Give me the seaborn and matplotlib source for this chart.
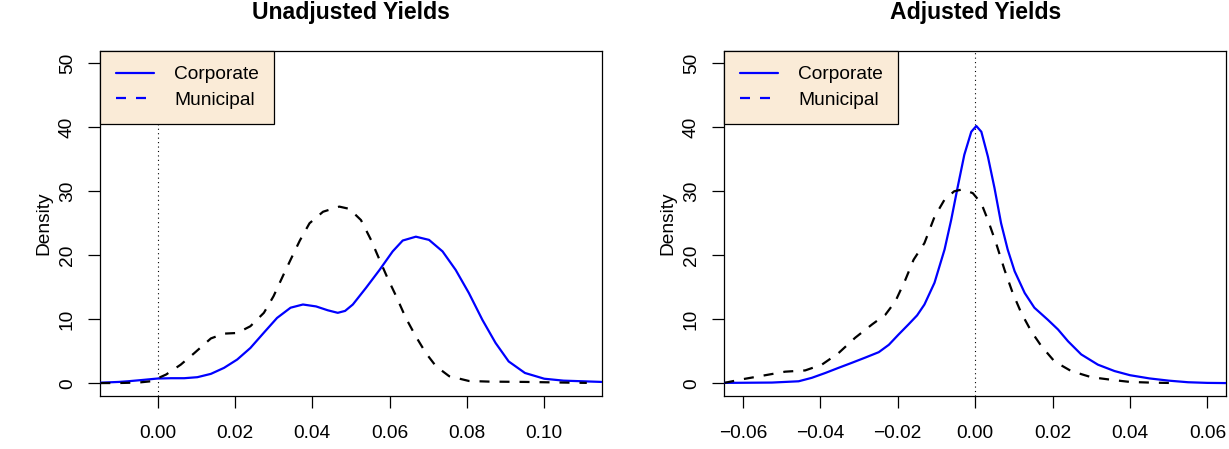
import numpy as np
import pandas as pd
import matplotlib
matplotlib.use("Agg")
import matplotlib.pyplot as plt
import seaborn as sns
from matplotlib.lines import Line2D

# ---------------- data ----------------
titles = ["Unadjusted Yields", "Adjusted Yields"]
series_names = ["Corporate", "Municipal"]
y_ticks = [0, 10, 20, 30, 40, 50]

unadj_xticks = [0.00, 0.02, 0.04, 0.06, 0.08, 0.10]
unadj_xlabels = ["0.00", "0.02", "0.04", "0.06", "0.08", "0.10"]
adj_xticks = [-0.06, -0.04, -0.02, 0.00, 0.02, 0.04, 0.06]
adj_xlabels = ["\u22120.06", "\u22120.04", "\u22120.02", "0.00", "0.02", "0.04", "0.06"]

unadj_corp_x = [-0.0148, -0.0100, -0.0077, -0.0040, 0.0000, 0.0035, 0.0069, 0.0103, 0.0138,
                0.0172, 0.0206, 0.0240, 0.0275, 0.0309, 0.0344, 0.0376, 0.0410, 0.0440,
                0.0466, 0.0485, 0.0505, 0.0539, 0.0574, 0.0608, 0.0634, 0.0668, 0.0702,
                0.0737, 0.0771, 0.0805, 0.0840, 0.0874, 0.0908, 0.0950, 0.1000, 0.1050,
                0.1100, 0.1148]
unadj_corp_y = [0.08, 0.2, 0.3, 0.5, 0.73, 0.78, 0.78, 0.94, 1.46,
                2.4, 3.7, 5.5, 7.9, 10.2, 11.8, 12.3, 12.0, 11.4,
                11.0, 11.3, 12.3, 14.9, 17.7, 20.6, 22.3, 22.9, 22.4,
                20.6, 17.7, 14.1, 9.9, 6.3, 3.4, 1.6, 0.7, 0.4,
                0.3, 0.2]

unadj_muni_x = [-0.0148, -0.0100, -0.0050, -0.0017, 0.0022, 0.0060, 0.0095, 0.0138, 0.0172,
                0.0206, 0.0240, 0.0275, 0.0300, 0.0326, 0.0348, 0.0368, 0.0393, 0.0428,
                0.0470, 0.0496, 0.0526, 0.0552, 0.0574, 0.0595, 0.0617, 0.0642, 0.0668,
                0.0694, 0.0720, 0.0754, 0.0805, 0.0857, 0.0950, 0.1050, 0.1110]
unadj_muni_y = [0.02, 0.03, 0.1, 0.3, 1.35, 2.9, 4.7, 7.0, 7.75,
                7.85, 8.9, 11.0, 13.6, 17.0, 19.8, 22.3, 25.0, 26.8,
                27.6, 27.25, 25.5, 22.4, 19.3, 16.4, 13.6, 10.2, 7.3,
                4.7, 2.65, 1.1, 0.35, 0.25, 0.2, 0.1, 0.05]

adj_corp_x = [-0.0648, -0.0525, -0.0456, -0.0422, -0.0387, -0.0353, -0.0318, -0.0284, -0.0249,
              -0.0223, -0.0198, -0.0172, -0.0150, -0.0131, -0.0105, -0.0079, -0.0062, -0.0045,
              -0.0028, -0.0010, 0.0003, 0.0016, 0.0033, 0.0050, 0.0067, 0.0084, 0.0102,
              0.0128, 0.0153, 0.0188, 0.0214, 0.0240, 0.0274, 0.0317, 0.0360, 0.0400,
              0.0450, 0.0500, 0.0550, 0.0600, 0.0648]
adj_corp_y = [0.05, 0.1, 0.3, 0.84, 1.6, 2.4, 3.2, 4.0, 4.85,
              6.0, 7.6, 9.2, 10.6, 12.3, 15.7, 20.9, 25.5, 30.7,
              35.7, 39.3, 40.2, 39.3, 35.4, 30.5, 25.0, 20.9, 17.5,
              14.1, 11.8, 9.9, 8.4, 6.55, 4.5, 2.9, 1.9, 1.25,
              0.75, 0.4, 0.15, 0.05, 0.02]

adj_muni_x = [-0.0648, -0.0603, -0.0542, -0.0491, -0.0439, -0.0396, -0.0353, -0.0310, -0.0266,
              -0.0232, -0.0206, -0.0180, -0.0159, -0.0131, -0.0105, -0.0079, -0.0054, -0.0032,
              -0.0006, 0.0016, 0.0033, 0.0054, 0.0076, 0.0097, 0.0119, 0.0145, 0.0171,
              0.0205, 0.0248, 0.0300, 0.0360, 0.0400, 0.0460, 0.0523]
adj_muni_y = [0.05, 0.6, 1.25, 1.8, 2.0, 2.9, 4.7, 7.1, 9.2,
              10.7, 12.8, 16.2, 19.3, 21.9, 26.0, 28.7, 30.0, 30.3,
              29.7, 28.1, 25.5, 21.9, 17.7, 14.1, 11.0, 8.1, 5.8,
              3.4, 1.9, 0.94, 0.47, 0.2, 0.08, 0.02]

# ---------------- style ----------------
sns.set_style("ticks")
plt.rcParams["font.family"] = ["Liberation Sans", "DejaVu Sans"]
plt.rcParams["axes.edgecolor"] = "black"
plt.rcParams["xtick.color"] = "black"
plt.rcParams["ytick.color"] = "black"
plt.rcParams["text.color"] = "black"
plt.rcParams["axes.labelcolor"] = "black"
plt.rcParams["lines.solid_joinstyle"] = "round"
plt.rcParams["lines.dash_joinstyle"] = "round"

FS = 13.8
BLUE = "#0000FF"
LW = 1.6
DASH = (0, (4.5, 4.5))

W, H = 1229, 449
fig = plt.figure(figsize=(W / 100, H / 100), dpi=100)
fig.patch.set_facecolor("white")


def add_axes(l, r, t, b):
    return fig.add_axes([l / W, 1 - b / H, (r - l) / W, (b - t) / H])


ax1 = add_axes(100.3, 601.5, 50.5, 396)
ax2 = add_axes(724.3, 1226.0, 50.5, 396)


def panel(ax, title, xlim, xticks, xlabels, cx, cy, mx, my):
    ax.axvline(0, color="black", lw=0.8, ls=(0, (1, 3)), zorder=1)
    sns.lineplot(x=cx, y=cy, ax=ax, color=BLUE, lw=LW, sort=False,
                 estimator=None, zorder=3)
    sns.lineplot(x=mx, y=my, ax=ax, color="black", lw=LW, linestyle=DASH,
                 sort=False, estimator=None, zorder=3)
    ax.set_xlim(*xlim)
    ax.set_ylim(-2, 52)
    ax.set_xticks(xticks)
    ax.set_xticklabels(xlabels)
    ax.set_yticks(y_ticks)
    ax.set_yticklabels([str(v) for v in y_ticks])
    ax.tick_params(length=8.6, width=0.9, labelsize=FS, direction="out")
    ax.tick_params(axis="x", pad=12)
    ax.tick_params(axis="y", pad=9)
    for lbl in ax.get_yticklabels():
        lbl.set_rotation(90)
        lbl.set_va("center")
        lbl.set_ha("right")
    for sp in ax.spines.values():
        sp.set_visible(True)
        sp.set_linewidth(0.9)
        sp.set_color("black")
    ax.set_xlabel("")
    ax.set_ylabel("Density", fontsize=FS, labelpad=5)
    ax.set_title(title, fontsize=16.6, fontweight="bold", pad=23)
    handles = [Line2D([], [], color=BLUE, lw=LW),
               Line2D([], [], color=BLUE, lw=LW, ls=DASH)]
    leg = ax.legend(handles, series_names, loc="upper left", bbox_to_anchor=(0, 1),
                    borderaxespad=0, frameon=True, fancybox=False,
                    facecolor="#FAEBD7", edgecolor="black", framealpha=1,
                    fontsize=FS, handlelength=2.0, handletextpad=1.05,
                    labelspacing=0.44, borderpad=0.8)
    leg.get_frame().set_linewidth(0.9)
    leg.set_zorder(5)


panel(ax1, titles[0], (-0.0148, 0.1148), unadj_xticks, unadj_xlabels,
      unadj_corp_x, unadj_corp_y, unadj_muni_x, unadj_muni_y)
panel(ax2, titles[1], (-0.0648, 0.0648), adj_xticks, adj_xlabels,
      adj_corp_x, adj_corp_y, adj_muni_x, adj_muni_y)

fig.savefig("out.png", dpi=100, facecolor="white")
